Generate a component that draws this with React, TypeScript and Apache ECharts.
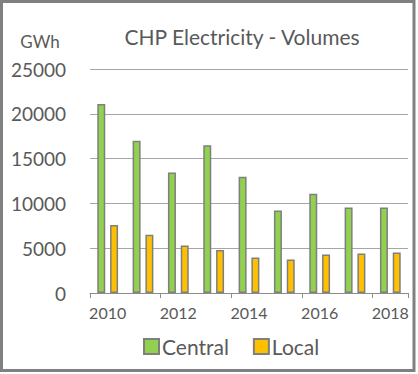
import React, { useEffect, useRef } from "react";
import * as echarts from "echarts";

const years = ["2010", "2011", "2012", "2013", "2014", "2015", "2016", "2017", "2018"];
const central = [21100, 17000, 13450, 16480, 12980, 9200, 11070, 9550, 9550];
const local = [7600, 6500, 5300, 4800, 3950, 3730, 4290, 4400, 4510];
const yTicks = [0, 5000, 10000, 15000, 20000, 25000];

export default function App() {
  const ref = useRef<HTMLDivElement>(null);
  useEffect(() => {
    document.body.style.margin = "0";
    const chart = echarts.init(ref.current!, null, { renderer: "svg" });
    const font = "Lato";
    const txt = "#595959";
    chart.setOption({
      animation: false,
      backgroundColor: "#ffffff",
      textStyle: { fontFamily: font },
      title: {
        text: "CHP Electricity - Volumes",
        left: 237,
        top: 21,
        textAlign: "center",
        textStyle: { fontFamily: font, fontSize: 21, fontWeight: "normal", color: txt },
      },
      graphic: [
        {
          type: "rect",
          shape: { x: 1.5, y: 1.5, width: 412.5, height: 369 },
          style: { fill: "none", stroke: "#808080", lineWidth: 3 },
          silent: true,
        },
        {
          type: "text",
          x: 40,
          y: 41,
          style: {
            text: "GWh",
            fontFamily: font,
            fontSize: 17,
            fill: txt,
            textAlign: "center",
            textVerticalAlign: "middle",
          },
        },
      ],
      legend: {
        data: ["Central", "Local"],
        orient: "horizontal",
        bottom: 12,
        left: 138,
        padding: 5,
        itemWidth: 15,
        itemHeight: 15,
        itemGap: 24,
        icon: "rect",
        textStyle: { fontFamily: font, fontSize: 21, color: txt, padding: [0, 0, 0, -2] },
      },
      grid: { left: 90, right: 10, top: 69, bottom: 81 },
      xAxis: {
        type: "category",
        data: years,
        axisLine: { lineStyle: { color: "#8c8c8c", width: 1 } },
        axisTick: { show: true, length: 5, inside: false, lineStyle: { color: "#8c8c8c" } },
        axisLabel: { interval: 1, fontFamily: font, fontSize: 16, color: txt, margin: 11 },
      },
      yAxis: {
        type: "value",
        min: yTicks[0],
        max: yTicks[yTicks.length - 1],
        interval: 5000,
        axisLine: { show: false },
        axisTick: { show: false },
        splitLine: { lineStyle: { color: "#a6a6a6", width: 1 } },
        axisLabel: {
          fontFamily: font,
          fontSize: 19,
          color: txt,
          margin: 24,
          formatter: (v: number) => String(v),
        },
      },
      series: [
        {
          name: "Central",
          type: "bar",
          data: central,
          barWidth: 8,
          barGap: "60%",
          itemStyle: { color: "#92d050", borderColor: "#7f7f7f", borderWidth: 1.5 },
        },
        {
          name: "Local",
          type: "bar",
          data: local,
          barWidth: 8,
          itemStyle: { color: "#ffc000", borderColor: "#7f7f7f", borderWidth: 1.5 },
        },
      ],
    });
    return () => chart.dispose();
  }, []);
  return <div ref={ref} style={{ width: 418, height: 374 }} />;
}
